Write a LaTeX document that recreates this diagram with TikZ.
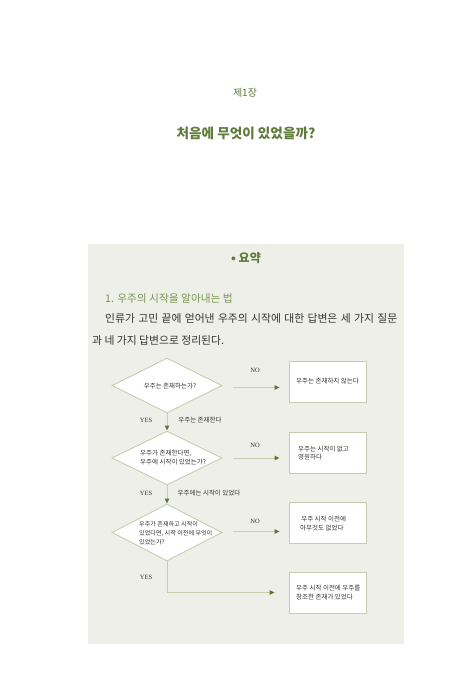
\documentclass[tikz,border=0pt]{standalone}
\usepackage{fontspec}
\usetikzlibrary{shapes.geometric,arrows.meta}
\newfontfamily\kr{Noto Sans CJK KR}
\setmainfont{Liberation Serif}
\definecolor{titlegreen}{HTML}{5E7C3A}
\definecolor{subgreen}{HTML}{7A9552}
\definecolor{panelbg}{HTML}{EFEFE9}
\definecolor{linegreen}{HTML}{C6CEB0}
\definecolor{tipgreen}{HTML}{5A7A32}
\definecolor{bodytext}{HTML}{333333}
\tikzset{
  dia/.style={draw=linegreen, line width=0.9pt, fill=white, shape=diamond, inner sep=0pt},
  resbox/.style={draw=linegreen, line width=0.9pt, fill=white, minimum width=77pt, minimum height=41pt, inner sep=0pt},
  conn/.style={draw=linegreen, line width=0.9pt, -{Triangle[length=5pt,width=4.5pt,color=tipgreen]}},
  small/.style={font=\kr\fontsize{6.5}{9.5}\selectfont, text=bodytext, inner sep=0pt},
  lbl/.style={font=\fontsize{6.5}{8}\selectfont, text=bodytext, inner sep=0pt},
  ftext/.style={small, anchor=west, align=left},
  bodyfont/.style={font=\kr\fontsize{10.8}{13}\selectfont, text=bodytext, anchor=west, inner sep=0pt},
}
\begin{document}
\begin{tikzpicture}[x=1pt,y=-1pt]
\useasboundingbox (0,0) rectangle (470,688);
\fill[white] (0,0) rectangle (470,688);
% panel
\fill[panelbg] (88,244) rectangle (404,644);
% headings
\node[font=\kr\fontsize{10}{12}\selectfont, text=titlegreen] (chap) at (245,93) {제1장};
\node[font=\kr\bfseries\fontsize{13.6}{16}\selectfont, text=titlegreen] (title) at (246,133) {처음에 무엇이 있었을까?};
\node[font=\kr\bfseries\fontsize{12}{14}\selectfont, text=titlegreen] (summ) at (246,258) {• 요약};
\node[font=\kr\fontsize{10.7}{13}\selectfont, text=subgreen, anchor=west, inner sep=0pt] (sub) at (105,298) {1. 우주의 시작을 알아내는 법};
\node[bodyfont] (body1) at (105,318) {\makebox[292pt][s]{인류가 고민 끝에 얻어낸 우주의 시작에 대한 답변은 세 가지 질문}};
\node[bodyfont] (body2) at (92,340) {과 네 가지 답변으로 정리된다.};
% diamonds
\node[dia, minimum width=110pt, minimum height=55pt] (d1) at (167,385.5) {};
\node[dia, minimum width=110pt, minimum height=54pt] (d2) at (167,458) {};
\node[dia, minimum width=110pt, minimum height=57pt] (d3) at (167,532.5) {};
\node[small] (d1t) at (170,386) {우주는 존재하는가?};
\node[ftext] (d2t) at (140,457.5) {우주가 존재한다면,\\[-0.5pt]우주에 시작이 있었는가?};
\node[ftext, font=\kr\fontsize{6.1}{9}\selectfont] (d3t) at (139,533) {우주가 존재하고 시작이\\있었다면, 시작 이전에 무엇이\\있었는가?};
% boxes
\node[resbox] (b1) at (327.5,381.5) {};
\node[resbox] (b2) at (327.5,452.5) {};
\node[resbox] (b3) at (327.5,523) {};
\node[resbox] (b4) at (327.5,592.5) {};
\node[small] (b1t) at (327.5,381.5) {우주는 존재하지 않는다};
\node[ftext] (b2t) at (298,453) {우주는 시작이 없고\\[-1pt]영원하다};
\node[ftext] (b3t) at (300,523.5) {\,우주 시작 이전에\\[-1pt]아무것도 없었다};
\node[ftext] (b4t) at (296,592.5) {우주 시작 이전에 우주를\\[-1pt]창조한 존재가 있었다};
% connector ends
\coordinate (a1s) at ([xshift=11pt,yshift=-2pt]d1.east);
\coordinate (a1e) at ([xshift=-9pt]b1.west |- a1s);
\coordinate (a2s) at ([xshift=11pt]d2.east);
\coordinate (a2e) at ([xshift=-9pt]b2.west |- a2s);
\coordinate (a3s) at ([xshift=11pt,yshift=1pt]d3.east);
\coordinate (a3e) at ([xshift=-9pt]b3.west |- a3s);
\coordinate (a4e) at ([xshift=-14pt]b4.west);
\draw[conn] (a1s) -- (a1e);
\draw[conn] (a2s) -- (a2e);
\draw[conn] (a3s) -- (a3e);
\draw[conn] (d1.south) -- (d2.north);
\draw[conn] (d2.south) -- (d3.north);
\draw[conn] (d3.south) |- (a4e);
% labels
\node[lbl] (no1) at (255,370) {NO};
\node[lbl] (no2) at (255,445) {NO};
\node[lbl] (no3) at (255,521) {NO};
\node[lbl] (yes1) at (146,420) {YES};
\node[lbl] (yes2) at (146,493) {YES};
\node[lbl] (yes3) at (146,577) {YES};
\node[small] (y1t) at (200,420) {우주는 존재한다};
\node[small] (y2t) at (209,493) {우주에는 시작이 있었다};
\end{tikzpicture}
\end{document}
